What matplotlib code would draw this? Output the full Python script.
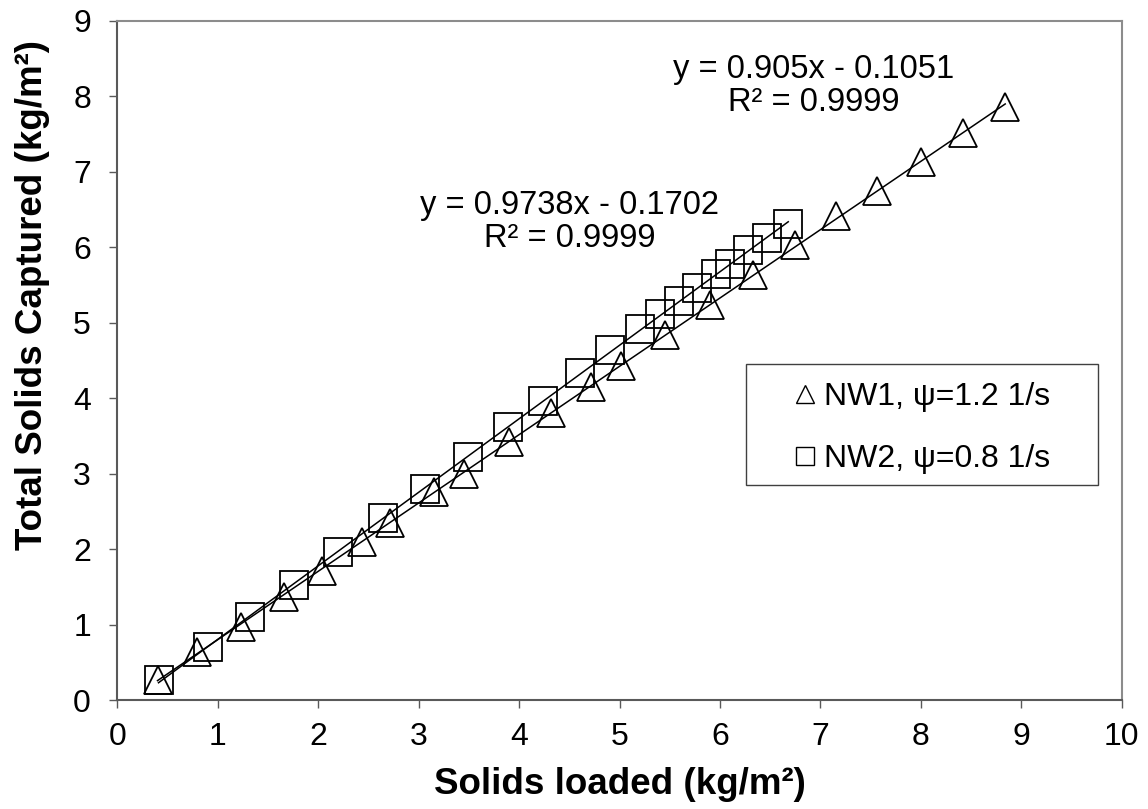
import matplotlib
matplotlib.use("Agg")
import matplotlib.pyplot as plt
from matplotlib.lines import Line2D
from matplotlib.patches import Rectangle
import numpy as np

plt.rcParams['font.family'] = ['Liberation Sans', 'DejaVu Sans']

# NW1, psi = 1.2 1/s  (triangles)
nw1_x = [0.40, 0.79, 1.23, 1.66, 2.04, 2.44, 2.71, 3.15, 3.45, 3.90, 4.32,
         4.72, 5.01, 5.45, 5.90, 6.33, 6.75, 7.16, 7.56, 8.00, 8.42, 8.84]
nw1_y = [0.26, 0.63, 0.97, 1.36, 1.71, 2.09, 2.34, 2.75, 3.00, 3.42, 3.80,
         4.15, 4.42, 4.83, 5.23, 5.63, 6.03, 6.41, 6.74, 7.13, 7.51, 7.85]

# NW2, psi = 0.8 1/s  (squares)
nw2_x = [0.41, 0.90, 1.32, 1.76, 2.20, 2.65, 3.06, 3.49, 3.89, 4.24, 4.61,
         4.91, 5.20, 5.40, 5.59, 5.77, 5.96, 6.10, 6.28, 6.47, 6.68]
nw2_y = [0.27, 0.70, 1.10, 1.52, 1.96, 2.41, 2.80, 3.22, 3.62, 3.96, 4.33,
         4.63, 4.91, 5.11, 5.29, 5.46, 5.64, 5.78, 5.96, 6.12, 6.31]

# linear trendlines (slope, intercept) and labels
nw1_fit = (0.905, -0.1051)
nw2_fit = (0.9738, -0.1702)
nw1_eq = "y = 0.905x - 0.1051\nR² = 0.9999"
nw2_eq = "y = 0.9738x - 0.1702\nR² = 0.9999"
nw1_label = "NW1, ψ=1.2 1/s"
nw2_label = "NW2, ψ=0.8 1/s"

fig = plt.figure(figsize=(11.48, 8.09), dpi=100)
ax = fig.add_axes([0.1022, 0.1347, 0.8749, 0.8399])

ax.plot(nw1_x, nw1_y, ls='none', marker='^', ms=19.5, mfc='none',
        mec='black', mew=1.3, zorder=3)
ax.plot(nw2_x, nw2_y, ls='none', marker='s', ms=19.5, mfc='none',
        mec='black', mew=1.3, zorder=3)

for xs, fit in ((nw1_x, nw1_fit), (nw2_x, nw2_fit)):
    xx = np.array([min(xs), max(xs)])
    ax.plot(xx, fit[0] * xx + fit[1], color='black', lw=1.1, zorder=4)

ax.text(6.93, 8.13, nw1_eq, ha='center', va='center', fontsize=23.5,
        linespacing=1.1)
ax.text(4.50, 6.33, nw2_eq, ha='center', va='center', fontsize=23.5,
        linespacing=1.1)

ax.set_xlim(0, 10)
ax.set_ylim(0, 9)
ax.set_xticks(np.arange(0, 11, 1))
ax.set_yticks(np.arange(0, 10, 1))

for side in ('left', 'bottom'):
    ax.spines[side].set_color('#595959')
    ax.spines[side].set_linewidth(1.5)
for side in ('top', 'right'):
    ax.spines[side].set_color('#8c8c8c')
    ax.spines[side].set_linewidth(1.5)

ax.tick_params(axis='both', direction='out', length=6, width=1,
               color='#595959', labelsize=23)
ax.tick_params(axis='x', pad=10)
ax.tick_params(axis='y', pad=13)

ax.set_xlabel("Solids loaded (kg/m²)", fontsize=26.5, fontweight='bold')
ax.set_ylabel("Total Solids Captured (kg/m²)", fontsize=26.5, fontweight='bold')
ax.xaxis.label.set_va('center')
ax.yaxis.label.set_va('center')
ax.xaxis.set_label_coords(0.5, -0.1245)
ax.yaxis.set_label_coords(-0.084, 0.596)

# legend box
ax.add_patch(Rectangle((0.626, 0.3165), 0.350, 0.178, transform=ax.transAxes,
                       fill=False, edgecolor='#404040', lw=1.0, zorder=5))
handles = [Line2D([], [], ls='none', marker='^', ms=13, mfc='none', mec='black', mew=1.0),
           Line2D([], [], ls='none', marker='s', ms=13, mfc='none', mec='black', mew=1.0)]
ax.legend(handles, [nw1_label, nw2_label], loc='center',
          bbox_to_anchor=(0.801, 0.4), frameon=False, fontsize=23,
          labelspacing=1.0, handlelength=0.7, handletextpad=0.25)

fig.savefig('out.png', dpi=100)
